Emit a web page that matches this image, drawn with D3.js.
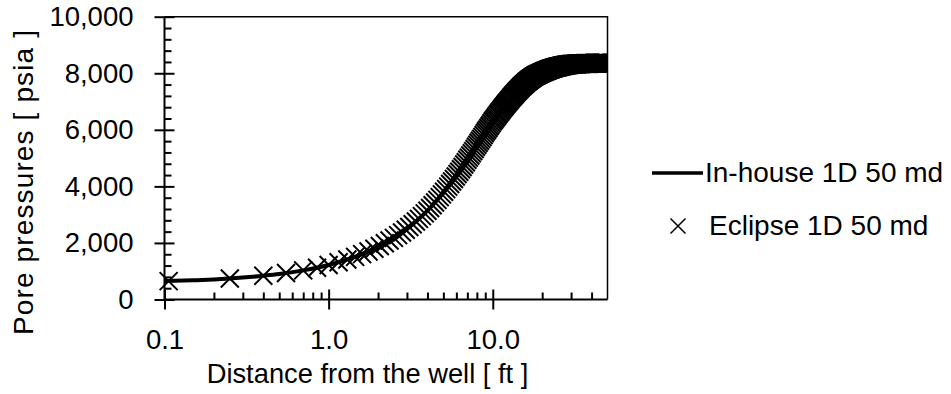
<!DOCTYPE html>
<html>
<head>
<meta charset="utf-8">
<script src="https://cdn.jsdelivr.net/npm/d3@7"></script>
<style>
  body { margin: 0; background: #fff; }
  text { font-family: "Liberation Sans", Arial, sans-serif; fill: #000; }
</style>
</head>
<body>
<svg id="chart" width="951" height="394"></svg>
<script>
// Axis ticks
const xTickValues = [0.1, 1, 10];
const xTickLabels = ["0.1", "1.0", "10.0"];
const yTickValues = [0, 2000, 4000, 6000, 8000, 10000];
const seriesNames = ["In-house 1D 50 md", "Eclipse 1D 50 md"];

// In-house 1D simulator: distance (ft) and pore pressure (psia)
const inhouseDist = [0.1, 0.15, 0.2, 0.3, 0.4, 0.5, 0.7, 1, 1.5, 2, 2.5, 3, 3.5, 4, 5, 6, 7, 8, 9, 10,
  11, 12, 13, 14, 15, 16, 17, 18, 19, 20, 22, 24, 26, 28, 30, 35, 40, 45, 50];
const inhousePressure = [650, 680, 710, 775, 840, 900, 1030, 1220, 1540, 1860, 2180, 2500, 2820, 3140, 3780, 4380, 4940, 5450, 5910, 6300,
  6620, 6900, 7140, 7350, 7530, 7680, 7800, 7900, 7970, 8030, 8130, 8200, 8250, 8290, 8315, 8340, 8350, 8354, 8357];

// Eclipse 1D grid-cell results: distance (ft) and pore pressure (psia)
const eclipseDist = [
  0.106,0.25,0.4,0.55,0.7,0.85,1,1.15,1.3,1.45,
  1.6,1.75,1.9,2.05,2.2,2.35,2.5,2.65,2.8,2.95,
  3.1,3.25,3.4,3.55,3.7,3.85,4,4.15,4.3,4.45,
  4.6,4.75,4.9,5.05,5.2,5.35,5.5,5.65,5.8,5.95,
  6.1,6.25,6.4,6.55,6.7,6.85,7,7.15,7.3,7.45,
  7.6,7.75,7.9,8.05,8.2,8.35,8.5,8.65,8.8,8.95,
  9.1,9.25,9.4,9.55,9.7,9.85,10,10.15,10.3,10.45,
  10.6,10.75,10.9,11.05,11.2,11.35,11.5,11.65,11.8,11.95,
  12.1,12.25,12.4,12.55,12.7,12.85,13,13.15,13.3,13.45,
  13.6,13.75,13.9,14.05,14.2,14.35,14.5,14.65,14.8,14.95,
  15.1,15.25,15.4,15.55,15.7,15.85,16,16.15,16.3,16.45,
  16.6,16.75,16.9,17.05,17.2,17.35,17.5,17.65,17.8,17.95,
  18.1,18.25,18.4,18.55,18.7,18.85,19,19.15,19.3,19.45,
  19.6,19.75,19.9,20.05,20.2,20.35,20.5,20.65,20.8,20.95,
  21.1,21.25,21.4,21.55,21.7,21.85,22,22.15,22.3,22.45,
  22.6,22.75,22.9,23.05,23.2,23.35,23.5,23.65,23.8,23.95,
  24.1,24.25,24.4,24.55,24.7,24.85,25,25.15,25.3,25.45,
  25.6,25.75,25.9,26.05,26.2,26.35,26.5,26.65,26.8,26.95,
  27.1,27.25,27.4,27.55,27.7,27.85,28,28.15,28.3,28.45,
  28.6,28.75,28.9,29.05,29.2,29.35,29.5,29.65,29.8,29.95,
  30.1,30.25,30.4,30.55,30.7,30.85,31,31.15,31.3,31.45,
  31.6,31.75,31.9,32.05,32.2,32.35,32.5,32.65,32.8,32.95,
  33.1,33.25,33.4,33.55,33.7,33.85,34,34.15,34.3,34.45,
  34.6,34.75,34.9,35.05,35.2,35.35,35.5,35.65,35.8,35.95,
  36.1,36.25,36.4,36.55,36.7,36.85,37,37.15,37.3,37.45,
  37.6,37.75,37.9,38.05,38.2,38.35,38.5,38.65,38.8,38.95,
  39.1,39.25,39.4,39.55,39.7,39.85,40,40.15,40.3,40.45,
  40.6,40.75,40.9,41.05,41.2,41.35,41.5,41.65,41.8,41.95,
  42.1,42.25,42.4,42.55,42.7,42.85,43,43.15,43.3,43.45,
  43.6,43.75,43.9,44.05,44.2,44.35,44.5,44.65,44.8,44.95,
  45.1,45.25,45.4,45.55,45.7,45.85,46,46.15,46.3,46.45,
  46.6,46.75,46.9,47.05,47.2,47.35,47.5,47.65,47.8,47.95,
  48.1,48.25,48.4,48.55,48.7,48.85,49,49.15,49.3,49.45,
  49.6,49.75,49.9];
const eclipsePressure = [
  650,745,840,935,1030,1125,1220,1316,1412,1508,
  1604,1700,1796,1892,1988,2084,2180,2276,2372,2468,
  2564,2660,2756,2852,2948,3044,3140,3236,3332,3428,
  3524,3620,3716,3812,3902,3992,4082,4172,4262,4352,
  4436,4520,4604,4688,4772,4856,4940,5017,5093,5170,
  5246,5323,5399,5473,5542,5611,5680,5749,5818,5887,
  5949,6008,6066,6125,6183,6242,6300,6348,6396,6444,
  6492,6540,6588,6634,6676,6718,6760,6802,6844,6886,
  6924,6960,6996,7032,7068,7104,7140,7172,7203,7235,
  7266,7298,7329,7359,7386,7413,7440,7467,7494,7521,
  7545,7568,7590,7613,7635,7658,7680,7698,7716,7734,
  7752,7770,7788,7805,7820,7835,7850,7865,7880,7895,
  7907,7918,7928,7939,7949,7960,7970,7979,7988,7997,
  8006,8015,8024,8033,8040,8048,8055,8063,8070,8078,
  8085,8093,8100,8108,8115,8123,8130,8138,8143,8148,
  8153,8159,8164,8169,8174,8180,8185,8190,8195,8198,
  8204,8208,8211,8215,8219,8223,8225,8229,8233,8236,
  8240,8244,8248,8251,8254,8257,8260,8263,8266,8269,
  8272,8275,8278,8281,8284,8287,8290,8292,8294,8296,
  8298,8300,8301,8303,8305,8307,8309,8311,8313,8315,
  8316,8317,8317,8318,8319,8320,8320,8321,8322,8323,
  8323,8324,8325,8326,8326,8327,8328,8329,8329,8330,
  8331,8332,8332,8333,8334,8335,8335,8336,8337,8338,
  8338,8339,8340,8340,8340,8341,8341,8341,8342,8342,
  8342,8343,8343,8343,8344,8344,8344,8345,8345,8345,
  8346,8346,8346,8347,8347,8347,8348,8348,8348,8349,
  8349,8349,8350,8350,8350,8350,8350,8351,8351,8351,
  8351,8351,8351,8351,8351,8352,8352,8352,8352,8352,
  8352,8352,8352,8352,8352,8352,8352,8352,8352,8352,
  8353,8353,8353,8353,8353,8353,8353,8353,8353,8353,
  8354,8354,8354,8354,8354,8354,8354,8354,8354,8354,
  8355,8355,8355,8355,8355,8355,8355,8355,8355,8355,
  8356,8356,8356,8356,8356,8356,8356,8356,8356,8356,
  8357,8357,8357];

const svg = d3.select("#chart");
const plot = { left: 164.5, right: 607.5, top: 16.7, bottom: 299.5 };

const x = d3.scaleLog().domain([0.1, 50]).range([plot.left, plot.right]);
const y = d3.scaleLinear().domain([0, 10000]).range([plot.bottom, plot.top]);

const tickFont = 27.5;
const titleFont = 27.3;
const legendFont = 28;

// Plot frame (top and right edges)
svg.append("path")
  .attr("d", `M${plot.left},${plot.top}H${plot.right}V${plot.bottom}`)
  .attr("fill", "none").attr("stroke", "#000").attr("stroke-width", 1.5);

// Series are cut at the right edge of the plot only
svg.append("clipPath").attr("id", "plotClip")
  .append("rect")
  .attr("x", 0).attr("y", 0)
  .attr("width", plot.right).attr("height", 394);

// X axis: minor ticks inside, major ticks crossing the axis
const xMinor = [];
[0.1, 1, 10].forEach(dec => { for (let k = 2; k <= 9; k++) { const v = dec * k; if (v < 50) xMinor.push(v); } });

const gx = svg.append("g").attr("transform", `translate(0,${plot.bottom})`);
gx.call(d3.axisBottom(x).tickValues(xMinor).tickSize(-7).tickSizeOuter(0).tickFormat(""));
gx.call(g => g.selectAll(".tick line").attr("stroke-width", 2));
const gxMajor = svg.append("g").attr("transform", `translate(0,${plot.bottom})`)
  .call(d3.axisBottom(x).tickValues(xTickValues).tickSize(10).tickSizeOuter(0)
    .tickFormat((d, i) => xTickLabels[i]));
gxMajor.selectAll(".tick line").attr("y1", -10).attr("stroke-width", 2);
gxMajor.selectAll(".tick text").attr("font-size", tickFont).attr("dy", 0).attr("y", 49.5)
  .attr("font-family", "Liberation Sans, Arial, sans-serif");
svg.selectAll(".domain").remove();
svg.append("line").attr("x1", plot.left).attr("x2", plot.right)
  .attr("y1", plot.bottom).attr("y2", plot.bottom)
  .attr("stroke", "#000").attr("stroke-width", 2);

// Y axis
const yMinor = d3.range(0, 10001, 400).filter(v => v % 2000 !== 0);
const gyMinor = svg.append("g").attr("transform", `translate(${plot.left},0)`)
  .call(d3.axisLeft(y).tickValues(yMinor).tickSize(-7).tickSizeOuter(0).tickFormat(""));
gyMinor.selectAll(".tick line").attr("stroke-width", 2);
const gy = svg.append("g").attr("transform", `translate(${plot.left},0)`)
  .call(d3.axisLeft(y).tickValues(yTickValues).tickSize(10).tickSizeOuter(0)
    .tickPadding(21).tickFormat(d3.format(",")));
gy.selectAll(".tick line").attr("x1", 10).attr("stroke-width", 2);
gy.selectAll(".tick text").attr("font-size", tickFont)
  .attr("font-family", "Liberation Sans, Arial, sans-serif");
svg.selectAll(".domain").remove();
svg.append("line").attr("x1", plot.left).attr("x2", plot.left)
  .attr("y1", plot.top).attr("y2", plot.bottom)
  .attr("stroke", "#000").attr("stroke-width", 2);

// Axis titles
svg.append("text").attr("x", 367.5).attr("y", 383).attr("text-anchor", "middle")
  .attr("font-size", titleFont).text("Distance from the well [ ft ]");
svg.append("text").attr("transform", "translate(33,182.5) rotate(-90)").attr("text-anchor", "middle")
  .attr("font-size", 28).attr("textLength", 305).attr("lengthAdjust", "spacing")
  .text("Pore pressures [ psia ]");

// Series
const plotArea = svg.append("g").attr("clip-path", "url(#plotClip)");

const inhouse = inhouseDist.map((d, i) => [d, inhousePressure[i]]);
const line = d3.line().x(d => x(d[0])).y(d => y(d[1])).curve(d3.curveMonotoneX);
plotArea.append("path").datum(inhouse)
  .attr("d", line).attr("fill", "none").attr("stroke", "#000")
  .attr("stroke-width", 4).attr("stroke-linejoin", "round");

const n = Math.min(eclipseDist.length, eclipsePressure.length);
const eclipse = d3.range(n).map(i => [eclipseDist[i], eclipsePressure[i]]);
const cross = s => `M${-s},${-s}L${s},${s}M${-s},${s}L${s},${-s}`;
plotArea.append("g").selectAll("path").data(eclipse).join("path")
  .attr("transform", d => `translate(${x(d[0])},${y(d[1])})`)
  .attr("d", cross(9)).attr("fill", "none").attr("stroke", "#000").attr("stroke-width", 2);

// Legend
const lg = svg.append("g");
lg.append("line").attr("x1", 652).attr("x2", 703).attr("y1", 173).attr("y2", 173)
  .attr("stroke", "#000").attr("stroke-width", 3.5);
lg.append("text").attr("x", 705).attr("y", 182).attr("font-size", legendFont).text(seriesNames[0]);
lg.append("path").attr("transform", "translate(678,226)").attr("d", cross(7.5))
  .attr("fill", "none").attr("stroke", "#000").attr("stroke-width", 1.5);
lg.append("text").attr("x", 709).attr("y", 235).attr("font-size", legendFont).text(seriesNames[1]);
</script>
</body>
</html>
